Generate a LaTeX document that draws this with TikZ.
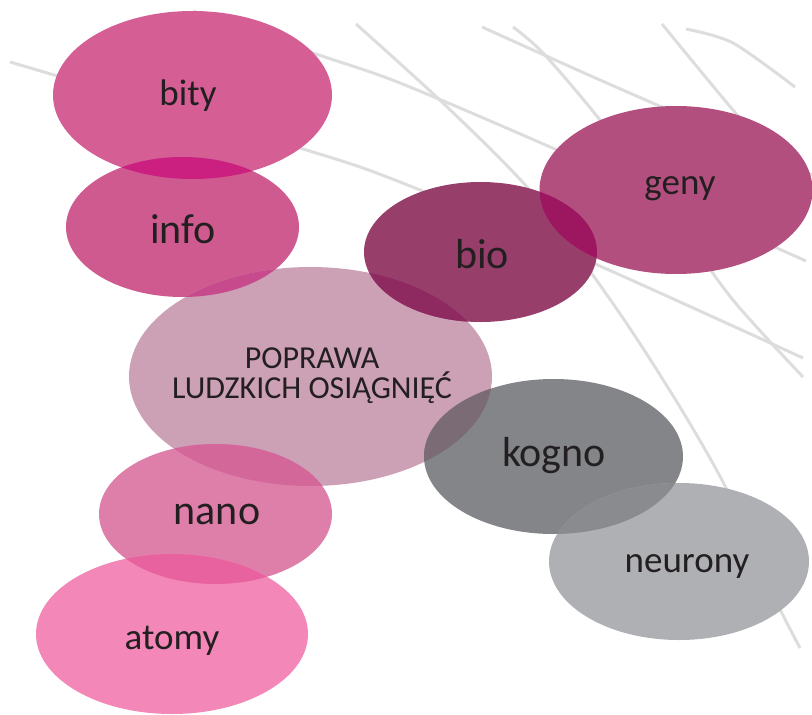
\documentclass[tikz,border=0pt]{standalone}
\usepackage{fontspec}
\setmainfont{Carlito}
\usetikzlibrary{shapes.geometric}
\definecolor{ink}{HTML}{231F20}
\definecolor{trackgray}{HTML}{DDDDDE}
\definecolor{bitycol}{HTML}{D55E94}
\definecolor{infocol}{HTML}{CF5A8F}
\definecolor{poprcol}{HTML}{CCA0B5}
\definecolor{biocol}{HTML}{983E6B}
\definecolor{genycol}{HTML}{B34F7E}
\definecolor{kognocol}{HTML}{848589}
\definecolor{neurcol}{HTML}{AFB0B4}
\definecolor{nanocol}{HTML}{DE7FAA}
\definecolor{atomcol}{HTML}{F387B7}
\definecolor{bityinfo}{HTML}{CB2080}
\definecolor{infopopr}{HTML}{C64A8C}
\definecolor{poprbio}{HTML}{8E2A5F}
\definecolor{biogeny}{HTML}{9C1660}
\definecolor{poprkogno}{HTML}{7A6B74}
\definecolor{kognoneur}{HTML}{8A8B8F}
\definecolor{poprnano}{HTML}{D4679A}
\definecolor{nanoatom}{HTML}{E962A0}

\begin{document}
\begin{tikzpicture}[x=1pt,y=-1pt,blob/.style={ellipse,inner sep=0pt,outer sep=0pt,draw=none},track/.style={draw=trackgray,line width=3pt},big/.style={text=ink,inner sep=0pt,font=\fontsize{42}{42}\selectfont},small/.style={text=ink,inner sep=0pt,font=\fontsize{37}{37}\selectfont},title/.style={text=ink,inner sep=0pt,align=center,font=\fontsize{32}{30}\selectfont},]
        \useasboundingbox (0,0) rectangle (812,715);

        % background tracks
        \draw[track] plot[smooth] coordinates {(10,62) (300,148) (400,182) (593,263) (803,358)};
        \draw[track] plot[smooth] coordinates {(193,11) (313,53) (400,83) (557,150) (806,261)};
        \draw[track] plot[smooth] coordinates {(356,24) (443,103) (527,187) (587,267) (633,333) (683,412) (727,490) (767,583) (800,648)};
        \draw[track] plot[smooth] coordinates {(482,27) (600,80) (767,153) (812,175)};
        \draw[track] plot[smooth] coordinates {(513,27) (543,53) (600,120) (673,217) (733,300) (803,377)};
        \draw[track] plot[smooth] coordinates {(662,24) (733,110) (812,200)};
        \draw[track] plot[smooth] coordinates {(686,29) (733,43) (795,87)};

        \node[blob,fill=bitycol,minimum width=279pt,minimum height=168pt] (bity) at (192.5,95) {};
        \node[blob,fill=infocol,minimum width=233pt,minimum height=140pt] (info) at (182.5,227) {};
        \node[blob,fill=poprcol,minimum width=363pt,minimum height=219pt] (popr) at (310.5,376.5) {};
        \node[blob,fill=biocol,minimum width=233pt,minimum height=140pt] (bio) at (480.5,252) {};
        \node[blob,fill=genycol,minimum width=273pt,minimum height=168pt] (geny) at (676,190) {};
        \node[blob,fill=kognocol,minimum width=259pt,minimum height=155pt] (kogno) at (553.5,456.5) {};
        \node[blob,fill=neurcol,minimum width=260pt,minimum height=157pt] (neur) at (679,561.5) {};
        \node[blob,fill=nanocol,minimum width=233pt,minimum height=140pt] (nano) at (215.5,514) {};
        \node[blob,fill=atomcol,minimum width=272pt,minimum height=160pt] (atom) at (172,634) {};

        % overlaps
        \begin{scope}
            \clip (bity.center) ellipse [x radius=139.5,y radius=84];
            \fill[bityinfo] (info.center) ellipse [x radius=116.5,y radius=70];
        \end{scope}
        \begin{scope}
            \clip (popr.center) ellipse [x radius=181.5,y radius=109.5];
            \fill[infopopr] (info.center) ellipse [x radius=116.5,y radius=70];
            \fill[poprbio] (bio.center) ellipse [x radius=116.5,y radius=70];
            \fill[poprkogno] (kogno.center) ellipse [x radius=129.5,y radius=77.5];
            \fill[poprnano] (nano.center) ellipse [x radius=116.5,y radius=70];
        \end{scope}
        \begin{scope}
            \clip (bio.center) ellipse [x radius=116.5,y radius=70];
            \fill[biogeny] (geny.center) ellipse [x radius=136.5,y radius=84];
        \end{scope}
        \begin{scope}
            \clip (kogno.center) ellipse [x radius=129.5,y radius=77.5];
            \fill[kognoneur] (neur.center) ellipse [x radius=130,y radius=78.5];
        \end{scope}
        \begin{scope}
            \clip (nano.center) ellipse [x radius=116.5,y radius=70];
            \fill[nanoatom] (atom.center) ellipse [x radius=136,y radius=80];
        \end{scope}

        \node[small] (bitytxt) at (188,96) {bity};
        \node[big] (infotxt) at (183,229) {info};
        \node[title] (poprtxt) at (312,376) {POPRAWA\\LUDZKICH OSIĄGNIĘĆ};
        \node[big] (biotxt) at (482,254) {bio};
        \node[small] (genytxt) at (680,189) {geny};
        \node[big] (kognotxt) at (554,456) {kogno};
        \node[small] (neurtxt) at (687,566) {neurony};
        \node[big] (nanotxt) at (217,514) {nano};
        \node[small] (atomtxt) at (172,641) {atomy};
    \end{tikzpicture}
\end{document}
